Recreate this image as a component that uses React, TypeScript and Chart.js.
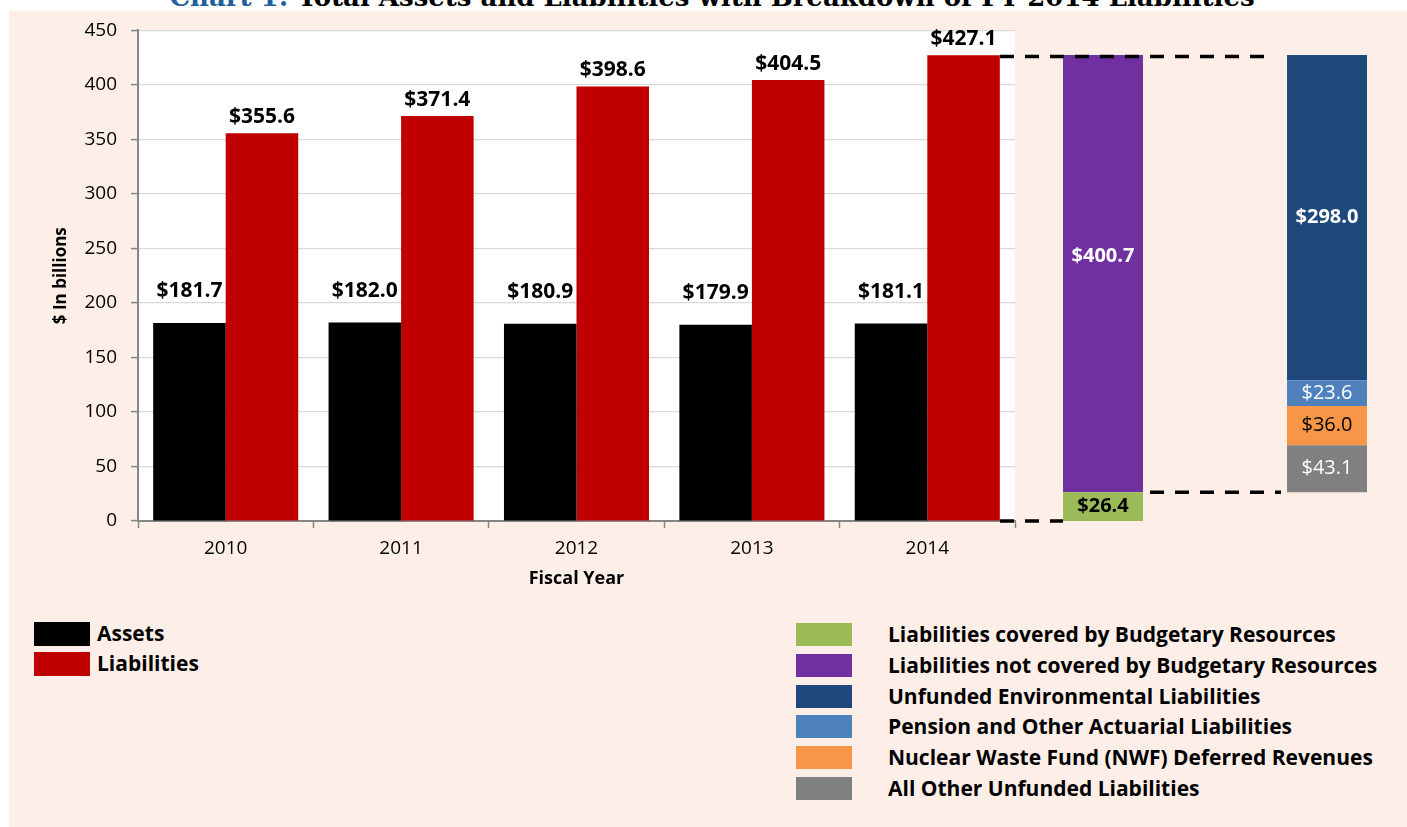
import React, { useEffect, useRef } from "react";
import { Chart, registerables } from "chart.js";

Chart.register(...registerables);

// ---------- data ----------
const years = ["2010", "2011", "2012", "2013", "2014"];
const assets = [181.7, 182.0, 180.9, 179.9, 181.1];
const liabilities = [355.6, 371.4, 398.6, 404.5, 427.1];
const yMin = 0;
const yMax = 450;
const yStep = 50;

// FY 2014 liabilities breakdown
const breakdownSlots = ["Coverage", "", "Unfunded"];
const coverageNames = [
  "Liabilities covered by Budgetary Resources",
  "Liabilities not covered by Budgetary Resources",
];
const coverageValues = [26.4, 400.7];
const unfundedNames = [
  "All Other Unfunded Liabilities",
  "Nuclear Waste Fund (NWF) Deferred Revenues",
  "Pension and Other Actuarial Liabilities",
  "Unfunded Environmental Liabilities",
];
const unfundedValues = [43.1, 36.0, 23.6, 298.0];

// ---------- styles ----------
const FONT = "'Open Sans', sans-serif";
const PEACH = "#FDEFE7";
const coverageColors = ["#9BBB59", "#7030A0"];
const coverageLabelColors = ["#000000", "#FFFFFF"];
const coverageLabelWeights = ["bold", "bold"];
const coverageLabelPos = [0.5, 0.46];
const unfundedColors = ["#808080", "#F79646", "#4F81BD", "#1F497D"];
const unfundedLabelColors = ["#FFFFFF", "#000000", "#FFFFFF", "#FFFFFF"];
const unfundedLabelWeights = ["normal", "normal", "normal", "bold"];
const unfundedLabelPos = [0.5, 0.5, 0.5, 0.5];

const legendLeft = [
  { name: "Assets", color: "#000000" },
  { name: "Liabilities", color: "#C00000" },
];
const legendRight = [
  { name: coverageNames[0], color: coverageColors[0] },
  { name: coverageNames[1], color: coverageColors[1] },
  { name: unfundedNames[3], color: unfundedColors[3] },
  { name: unfundedNames[2], color: unfundedColors[2] },
  { name: unfundedNames[1], color: unfundedColors[1] },
  { name: unfundedNames[0], color: unfundedColors[0] },
];

const fmt = (v: number) => "$" + v.toFixed(1);

export default function App() {
  const refA = useRef<HTMLCanvasElement | null>(null);
  const refB = useRef<HTMLCanvasElement | null>(null);

  useEffect(() => {
    const whiteArea = {
      id: "whiteArea",
      beforeDraw(chart: any) {
        const { ctx, chartArea } = chart;
        ctx.save();
        ctx.fillStyle = "#FFFFFF";
        ctx.fillRect(chartArea.left, chartArea.top, chartArea.right - chartArea.left, chartArea.bottom - chartArea.top);
        ctx.restore();
      },
    };
    const labelOffsets = [32, 16];
    const barLabels = {
      id: "barLabels",
      afterDatasetsDraw(chart: any) {
        const ctx = chart.ctx;
        ctx.save();
        ctx.font = `bold 21px ${FONT}`;
        ctx.fillStyle = "#000";
        ctx.textAlign = "center";
        ctx.textBaseline = "middle";
        chart.data.datasets.forEach((ds: any, di: number) => {
          const meta = chart.getDatasetMeta(di);
          meta.data.forEach((bar: any, i: number) => {
            ctx.fillText(fmt(ds.data[i]), bar.x, bar.y - labelOffsets[di]);
          });
        });
        ctx.restore();
      },
    };

    const chartA = new Chart(refA.current as HTMLCanvasElement, {
      type: "bar",
      data: {
        labels: years,
        datasets: [
          { label: "Assets", data: assets, backgroundColor: "#000000", categoryPercentage: 0.827, barPercentage: 1 },
          { label: "Liabilities", data: liabilities, backgroundColor: "#C00000", categoryPercentage: 0.827, barPercentage: 1 },
        ],
      },
      options: {
        animation: false,
        responsive: false,
        maintainAspectRatio: false,
        layout: { padding: { top: 10, right: 15, left: 0, bottom: 0 } },
        plugins: { legend: { display: false }, tooltip: { enabled: false } },
        scales: {
          x: {
            grid: { display: true, drawOnChartArea: false, offset: true, tickLength: 7, tickColor: "#868686", tickWidth: 1.5 },
            border: { color: "#868686", width: 2 },
            ticks: { color: "#000", font: { family: FONT, size: 19 }, padding: 9 },
            title: {
              display: true,
              text: "Fiscal Year",
              color: "#000",
              font: { family: FONT, size: 18, weight: "bold" },
              padding: { top: 0, bottom: 20 },
            },
            afterFit: (s: any) => {
              s.height = 89;
            },
          },
          y: {
            min: yMin,
            max: yMax,
            ticks: { stepSize: yStep, color: "#000", font: { family: FONT, size: 19 }, padding: 14 },
            grid: { color: "#D9D9D9", lineWidth: 1.2, tickLength: 7, tickColor: "#868686", tickWidth: 1.5 },
            border: { color: "#868686", width: 2 },
            title: {
              display: true,
              text: "$ In billions",
              color: "#000",
              font: { family: FONT, size: 17, weight: "bold" },
              padding: { top: 42, bottom: 0 },
            },
            afterFit: (s: any) => {
              s.width = 129;
            },
          },
        },
      } as any,
      plugins: [whiteArea, barLabels],
    });

    // breakdown chart
    const datasetsB: any[] = [];
    const segLabelColors: string[] = [];
    const segLabelWeights: string[] = [];
    const segLabelPos: number[] = [];
    const segSlots: number[] = [];
    let acc = 0;
    coverageValues.forEach((v, i) => {
      datasetsB.push({
        label: coverageNames[i],
        data: [[acc, acc + v], null, null],
        backgroundColor: coverageColors[i],
        value: v,
      });
      segLabelColors.push(coverageLabelColors[i]);
      segLabelWeights.push(coverageLabelWeights[i]);
      segLabelPos.push(coverageLabelPos[i]);
      segSlots.push(0);
      acc += v;
    });
    let acc2 = coverageValues[0];
    unfundedValues.forEach((v, i) => {
      datasetsB.push({
        label: unfundedNames[i],
        data: [null, null, [acc2, acc2 + v]],
        backgroundColor: unfundedColors[i],
        value: v,
      });
      segLabelColors.push(unfundedLabelColors[i]);
      segLabelWeights.push(unfundedLabelWeights[i]);
      segLabelPos.push(unfundedLabelPos[i]);
      segSlots.push(2);
      acc2 += v;
    });
    datasetsB.forEach((d) => {
      d.categoryPercentage = 1;
      d.barPercentage = 0.714;
    });

    const segLabels = {
      id: "segLabels",
      afterDatasetsDraw(chart: any) {
        const ctx = chart.ctx;
        ctx.save();
        ctx.textAlign = "center";
        ctx.textBaseline = "middle";
        chart.data.datasets.forEach((ds: any, di: number) => {
          const bar = chart.getDatasetMeta(di).data[segSlots[di]];
          if (!bar) return;
          ctx.font = `${segLabelWeights[di]} 20px ${FONT}`;
          ctx.fillStyle = segLabelColors[di];
          const cy = bar.y + (bar.base - bar.y) * segLabelPos[di];
          ctx.fillText(fmt(ds.value), bar.x, cy);
        });
        ctx.restore();
      },
    };

    const nCov = coverageValues.length;
    const dashes = {
      id: "dashes",
      afterDatasetsDraw(chart: any) {
        const ctx = chart.ctx;
        const y = chart.scales.y;
        const green = chart.getDatasetMeta(0).data[0];
        const gray = chart.getDatasetMeta(nCov).data[2];
        const total = coverageValues.reduce((a, b) => a + b, 0);
        const yTop = y.getPixelForValue(total) + 1.5;
        const yCov = y.getPixelForValue(coverageValues[0]);
        const yZero = y.getPixelForValue(0);
        const lL = green.x - green.width / 2;
        const lR = green.x + green.width / 2;
        const rL = gray.x - gray.width / 2;
        ctx.save();
        ctx.strokeStyle = "#000";
        ctx.lineWidth = 3.5;
        ctx.setLineDash([14, 11]);
        ctx.beginPath();
        ctx.moveTo(0, yTop);
        ctx.lineTo(rL - 12, yTop);
        ctx.moveTo(0, yZero);
        ctx.lineTo(lL, yZero);
        ctx.moveTo(lR + 7, yCov);
        ctx.lineTo(rL - 6, yCov);
        ctx.stroke();
        ctx.restore();
      },
    };

    const chartB = new Chart(refB.current as HTMLCanvasElement, {
      type: "bar",
      data: { labels: breakdownSlots, datasets: datasetsB },
      options: {
        animation: false,
        responsive: false,
        maintainAspectRatio: false,
        layout: { padding: { left: 47, right: 24, top: 19, bottom: 90 } },
        plugins: { legend: { display: false }, tooltip: { enabled: false } },
        scales: {
          x: { display: false, stacked: true },
          y: { display: false, min: yMin, max: yMax },
        },
      } as any,
      plugins: [dashes, segLabels],
    });

    return () => {
      chartA.destroy();
      chartB.destroy();
    };
  }, []);

  const legendText: React.CSSProperties = {
    fontFamily: FONT,
    fontWeight: 700,
    fontSize: 21,
    color: "#000",
    whiteSpace: "nowrap",
    lineHeight: "24px",
  };

  return (
    <div style={{ position: "absolute", left: 0, top: 0, width: 1407, height: 827, overflow: "hidden", background: "#fff" }}>
      <div
        style={{
          position: "absolute",
          left: 0,
          width: 1424,
          top: -16,
          textAlign: "center",
          fontFamily: "'DejaVu Serif', serif",
          fontWeight: 700,
          fontSize: 26,
          lineHeight: "26px",
          whiteSpace: "nowrap",
        }}
      >
        <span style={{ color: "#1F5FA0" }}>Chart 1:</span> <span style={{ color: "#000" }}>Total Assets and Liabilities with Breakdown of FY 2014 Liabilities</span>
      </div>
      <div style={{ position: "absolute", left: 9, top: 11, width: 1398, height: 816, background: PEACH }} />
      <canvas ref={refA} width={1021} height={605} style={{ position: "absolute", left: 9, top: 5, width: 1021, height: 605 }} />
      <canvas ref={refB} width={407} height={600} style={{ position: "absolute", left: 1000, top: 11, width: 407, height: 600 }} />
      {legendLeft.map((it, i) => (
        <div key={it.name} style={{ position: "absolute", left: 34, top: 622 + i * 30, height: 24 }}>
          <div style={{ position: "absolute", left: 0, top: 0, width: 56, height: 24, background: it.color }} />
          <div style={{ ...legendText, position: "absolute", left: 63, top: -1 }}>{it.name}</div>
        </div>
      ))}
      {legendRight.map((it, i) => (
        <div key={it.name} style={{ position: "absolute", left: 796, top: 623 + i * 30.8, height: 24 }}>
          <div style={{ position: "absolute", left: 0, top: 0, width: 56, height: 23, background: it.color }} />
          <div style={{ ...legendText, position: "absolute", left: 92, top: -1 }}>{it.name}</div>
        </div>
      ))}
    </div>
  );
}
